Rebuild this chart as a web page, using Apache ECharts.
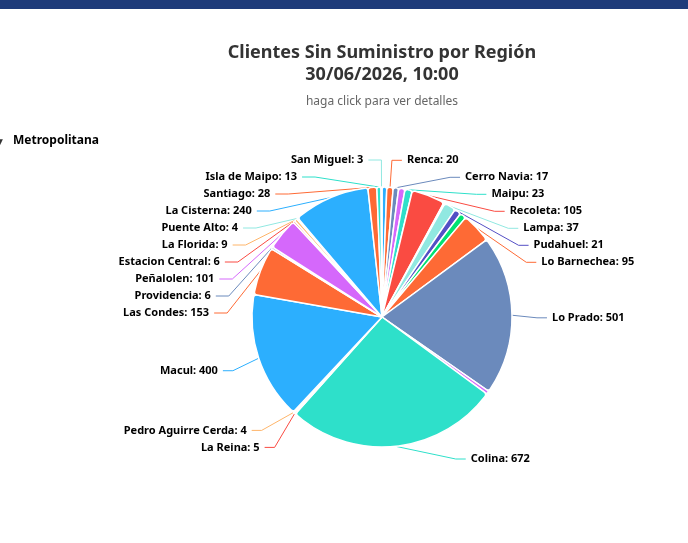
<!DOCTYPE html>
<html><head><meta charset="utf-8">
<script src="https://cdn.jsdelivr.net/npm/echarts@6/dist/echarts.min.js"></script>
<style>
html,body{margin:0;padding:0;background:#fff;overflow:hidden}
#chart{position:absolute;left:0;top:0;width:688px;height:543px}
#bar{position:absolute;left:0;top:0;width:688px;height:9px;background:#1e3b7a;z-index:2}
</style>
</head><body>
<div id="chart"></div><div id="bar"></div>
<script>
// Comunas in clockwise order from 12 o'clock (slices whose label is not shown are "otra")
const comunas = ['Otra comuna 1','Renca','Cerro Navia','Otra comuna 2','Maipu','Recoleta','Otra comuna 3','Lampa','Pudahuel','Otra comuna 4','Lo Barnechea','Lo Prado','Otra comuna 5','Colina','La Reina','Pedro Aguirre Cerda','Macul','Las Condes','Providencia','Peñalolen','Estacion Central','La Florida','Puente Alto','La Cisterna','Santiago','Isla de Maipo','San Miguel'];
const clientes = [15,20,17,20,23,105,4,37,21,20,95,501,10,672,5,4,400,153,6,101,6,9,4,240,28,13,3];
const sinEtiqueta = ['Otra comuna 1','Otra comuna 2','Otra comuna 3','Otra comuna 4','Otra comuna 5'];
const palette = ['#2caffe','#fe6a35','#6b8abc','#d568fb','#2ee0ca','#fa4b42','#feb56a','#91e8e1','#544fc5','#00e272','#fe6a35','#6b8abc','#d568fb','#2ee0ca','#fa4b42','#feb56a','#2caffe','#fe6a35','#6b8abc','#d568fb','#fa4b42','#feb56a','#91e8e1','#2caffe','#fe6a35','#2ee0ca','#91e8e1'];
const titulo = 'Clientes Sin Suministro por Región\n30/06/2026, 10:00';
const subtitulo = 'haga click para ver detalles';
const region = 'Metropolitana';

const FONT = '"Noto Sans", "Open Sans", sans-serif';
const CX = 382, CY = 317, R = 130, LEN = 30, LEN2 = 10, DIST = 5;
const LABEL_LIMIT = 142; // labels are kept within the plot area (as in the original)

const data = comunas.map((n, i) => {
  const item = { name: n, value: clientes[i] };
  if (sinEtiqueta.includes(n)) { item.label = { show: false }; item.labelLine = { show: false }; }
  return item;
});

function ajustarEtiqueta(p) {
  const pts = p.labelLinePoints;
  if (!pts) return {};
  const midY = p.labelRect.y + p.labelRect.height / 2;
  const dir = pts[2][0] < CX ? -1 : 1;
  if (midY - CY > LABEL_LIMIT) {
    const y = CY + LABEL_LIMIT;
    const dx = Math.sqrt((R + LEN) * (R + LEN) - LABEL_LIMIT * LABEL_LIMIT);
    const x2 = CX + dir * dx;
    const x3 = x2 + dir * LEN2;
    return { x: x3 + dir * DIST, y: y, align: dir > 0 ? 'left' : 'right', verticalAlign: 'middle',
             labelLinePoints: [pts[0], [x2, y], [x3, y]] };
  }
  let ddx = 0, ddy = 0;
  if (midY < CY + 80) { ddy = 3; if (dir < 0 && midY < CY) ddx = -3; }
  else if (dir < 0 && midY > CY + 100) { ddy = -4; }
  if (!ddx && !ddy) return {};
  return { dx: ddx, dy: ddy,
           labelLinePoints: [pts[0], [pts[1][0], pts[1][1] + ddy], [pts[2][0] + ddx, pts[2][1] + ddy]] };
}

const chart = echarts.init(document.getElementById('chart'), null, { renderer: 'canvas' });
chart.setOption({
  animation: false,
  color: palette,
  title: [
    { text: titulo, left: 382, top: 42, padding: 0, textAlign: 'center',
      textStyle: { fontFamily: FONT, fontSize: 18, fontWeight: 'bold', color: '#333', lineHeight: 22 } },
    { text: subtitulo, left: 382, top: 96, padding: 0, textAlign: 'center',
      textStyle: { fontFamily: FONT, fontSize: 12, fontWeight: 'normal', color: '#666' } },
    { text: region, left: 13, top: 135, padding: 0,
      textStyle: { fontFamily: FONT, fontSize: 12, fontWeight: 'bold', color: '#000' } }
  ],
  graphic: [{ type: 'text', left: -5, top: 137, style: { text: '▼', fontSize: 10, fill: '#333' } }],
  series: [{
    type: 'pie',
    center: [CX, CY],
    radius: R,
    startAngle: 90,
    clockwise: true,
    avoidLabelOverlap: true,
    itemStyle: { borderColor: '#fff', borderWidth: 1.5, borderRadius: 3 },
    label: { show: true, formatter: '{b}: {c}', fontFamily: FONT, fontSize: 11, fontWeight: 'bold', color: '#000', lineHeight: 15, distanceToLabelLine: DIST },
    labelLine: { show: true, length: LEN, length2: LEN2, lineStyle: { width: 1 } },
    labelLayout: ajustarEtiqueta,
    emphasis: { disabled: true },
    data: data
  }]
});
</script>
</body></html>
